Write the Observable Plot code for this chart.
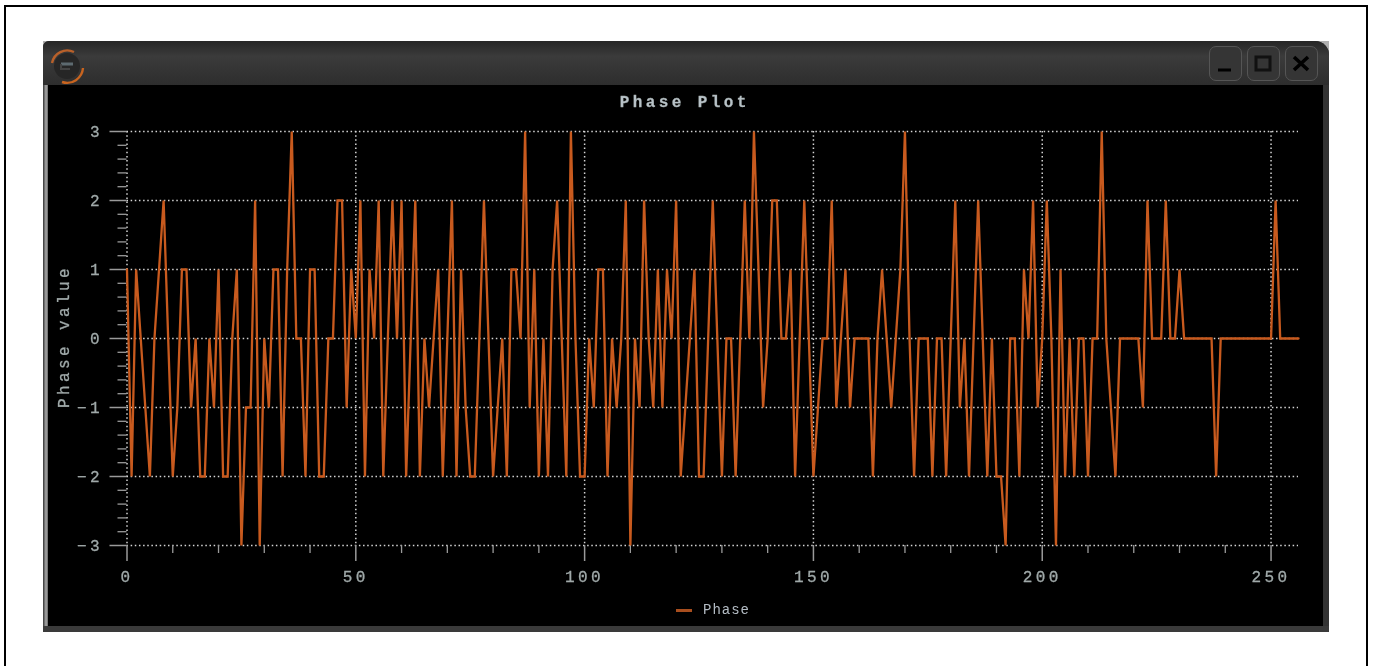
<!DOCTYPE html>
<html>
<head>
<meta charset="utf-8">
<script src="https://cdn.jsdelivr.net/npm/d3@7"></script>
<script src="https://cdn.jsdelivr.net/npm/@observablehq/plot@0.6"></script>
<style>
html,body{margin:0;padding:0;background:#fff;width:1374px;height:666px;overflow:hidden}
.pg{position:absolute;background:#000}
.cn{position:absolute;background:#b0b0b0;width:14px;height:14px}
#win{position:absolute;left:43px;top:41px;width:1286px;height:591px;background:#333;border-radius:6px 14px 0 0;overflow:hidden}
#bar{position:absolute;left:0;top:0;right:0;height:44px;background:linear-gradient(#262626,#3b3b3b 35%,#2d2d2d)}
#inner{position:absolute;left:5px;top:44px;width:1275px;height:541px;background:#000}
#edgeL{position:absolute;left:0;top:44px;width:5px;height:541px;background:linear-gradient(90deg,#333,#aaa 60%,#666)}
#edgeB{position:absolute;left:0;right:0;bottom:0;height:6px;background:#3a3a3a}
.btn{position:absolute;top:5px;width:33px;height:35px;box-sizing:border-box;border:1.5px solid #555;border-radius:7px;background:#353535}
#chart{position:absolute;left:0;top:0;filter:blur(.45px)}
#chart svg text{letter-spacing:3.4px;stroke:#a4aeae;stroke-width:.3px}
#legend{position:absolute;left:676px;top:602px;height:16px;display:flex;align-items:center;font:14px "Liberation Mono",monospace;letter-spacing:1px;color:#b4bcc4;filter:blur(.35px)}
#legend i{display:inline-block;width:16px;height:3px;background:#a84e1e;margin-right:11px}
</style>
</head>
<body>
<div class="pg" style="left:4px;top:5px;width:1364px;height:2px"></div>
<div class="pg" style="left:4px;top:5px;width:2px;height:661px"></div>
<div class="pg" style="left:1366px;top:5px;width:2px;height:661px"></div>
<div class="cn" style="left:1315px;top:41px"></div>
<div class="cn" style="left:43px;top:41px"></div>
<div id="win">
  <div id="bar"></div>
  <div id="edgeL"></div>
  <div id="edgeB"></div>
  <div id="inner"></div>
  <svg style="position:absolute;left:5px;top:4px" width="40" height="40" viewBox="0 0 40 40">
    <circle cx="19" cy="21" r="13" fill="#262626"/>
    <path d="M4 18 A15.5 15.5 0 0 1 26 7" fill="none" stroke="#b8602a" stroke-width="2.4"/>
    <path d="M35 23 A16 16 0 0 1 14 37" fill="none" stroke="#c8641f" stroke-width="2.4"/>
    <path d="M13 19 h12" stroke="#5d6a70" stroke-width="3"/>
    <path d="M13 19 v5 h9" fill="none" stroke="#444" stroke-width="2"/>
  </svg>
  <div class="btn" style="left:1166px"><svg width="30" height="32"><path d="M8 23h13" stroke="#000" stroke-width="3"/></svg></div>
  <div class="btn" style="left:1204px"><svg width="30" height="32"><rect x="8" y="10" width="14" height="13" fill="none" stroke="#111" stroke-width="3"/></svg></div>
  <div class="btn" style="left:1242px"><svg width="30" height="32"><path d="M8 10l14 13M22 10l-14 13" stroke="#000" stroke-width="3.6"/></svg></div>
</div>
<div id="chart"></div>
<div id="legend"><i></i><span>Phase</span></div>
<script>
const chartTitle = "Phase Plot";
const yLabel = "Phase value";
const seriesName = "Phase";
const majorX = [0, 50, 100, 150, 200, 250];
const minorX = [10, 20, 30, 40, 60, 70, 80, 90, 110, 120, 130, 140, 160, 170, 180, 190, 210, 220, 230, 240];
const majorY = [-3, -2, -1, 0, 1, 2, 3];
const minorY = [-2.8, -2.6, -2.4, -2.2, -1.8, -1.6, -1.4, -1.2, -0.8, -0.6, -0.4, -0.2, 0.2, 0.4, 0.6, 0.8, 1.2, 1.4, 1.6, 1.8, 2.2, 2.4, 2.6, 2.8];
const phase = [
  1,-2,1,0,-1,-2,0,1,2,0,
  -2,-1,1,1,-1,0,-2,-2,0,-1,
  1,-2,-2,0,1,-3,-1,-1,2,-3,
  0,-1,1,1,-2,1,3,0,0,-2,
  1,1,-2,-2,0,0,2,2,-1,1,
  0,2,-2,1,0,2,-2,0,2,0,
  2,-2,0,2,-2,0,-1,0,1,-2,
  0,2,-2,1,-1,-2,-2,0,2,0,
  -2,-1,0,-2,1,1,0,3,-1,1,
  -2,0,-2,1,2,0,-2,3,0,-2,
  -2,0,-1,1,1,-2,0,-1,0,2,
  -3,0,-1,2,0,-1,1,-1,1,0,
  2,-2,-1,0,1,-2,-2,0,2,0,
  -2,0,0,-2,0,2,0,3,1,-1,
  0,2,2,0,0,1,-2,0,2,0,
  -2,-1,0,0,2,-1,0,1,-1,0,
  0,0,0,-2,0,1,0,-1,0,1,
  3,0,-2,0,0,0,-2,0,0,-2,
  0,2,-1,0,-2,0,2,0,-2,0,
  -2,-2,-3,0,0,-2,1,0,2,-1,
  0,2,0,-3,1,-2,0,-2,0,0,
  -2,0,0,3,0,-1,-2,0,0,0,
  0,0,-1,2,0,0,0,2,0,0,
  1,0,0,0,0,0,0,0,-2,0,
  0,0,0,0,0,0,0,0,0,0,
  0,2,0,0,0,0,0
];
const rows = phase.map((v, i) => ({index: i, value: v}));

const tickColor = "#9a9a9a";
const textColor = "#9fa8a8";
const gridColor = "#d4d4d4";
const plot = Plot.plot({
  width: 1374,
  height: 666,
  marginLeft: 126.5,
  marginRight: 76,
  marginTop: 131,
  marginBottom: 121,
  style: {background: "transparent", fontFamily: "'Liberation Mono', monospace", fontSize: "16px"},
  x: {domain: [0, 256]},
  y: {domain: [-3, 3]},
  marks: [
    Plot.gridX(majorX, {stroke: gridColor, strokeOpacity: 1, strokeWidth: 1.5, strokeDasharray: "1.5,2.65"}),
    Plot.gridY(majorY, {stroke: gridColor, strokeOpacity: 1, strokeWidth: 1.5, strokeDasharray: "1.5,2.65"}),
    Plot.axisX({ticks: minorX, tickSize: 8, stroke: tickColor, strokeWidth: 1.3, text: null, label: null}),
    Plot.axisX({ticks: majorX, tickSize: 16, tickPadding: 9, tickFormat: "d", stroke: tickColor, strokeWidth: 1.5, fill: textColor, label: null}),
    Plot.axisY({ticks: minorY, tickSize: 9, stroke: tickColor, strokeWidth: 1.3, text: null, label: null}),
    Plot.axisY({ticks: majorY, tickSize: 17, tickPadding: 7, tickFormat: "d", stroke: tickColor, strokeWidth: 1.5, fill: textColor, label: null}),
    Plot.line(rows, {x: "index", y: "value", stroke: "#c85a1e", strokeWidth: 2.3, strokeLinejoin: "miter", strokeMiterlimit: 2}),
    Plot.text([chartTitle], {frameAnchor: "top", dx: -28, dy: -36, fill: "#b8c2c8", fontWeight: "bold", fontSize: 16}),
    Plot.text([yLabel], {frameAnchor: "left", textAnchor: "middle", rotate: -90, dx: -63, dy: -2, fill: textColor, fontSize: 16})
  ]
});
document.getElementById("chart").appendChild(plot);
</script>
</body>
</html>
